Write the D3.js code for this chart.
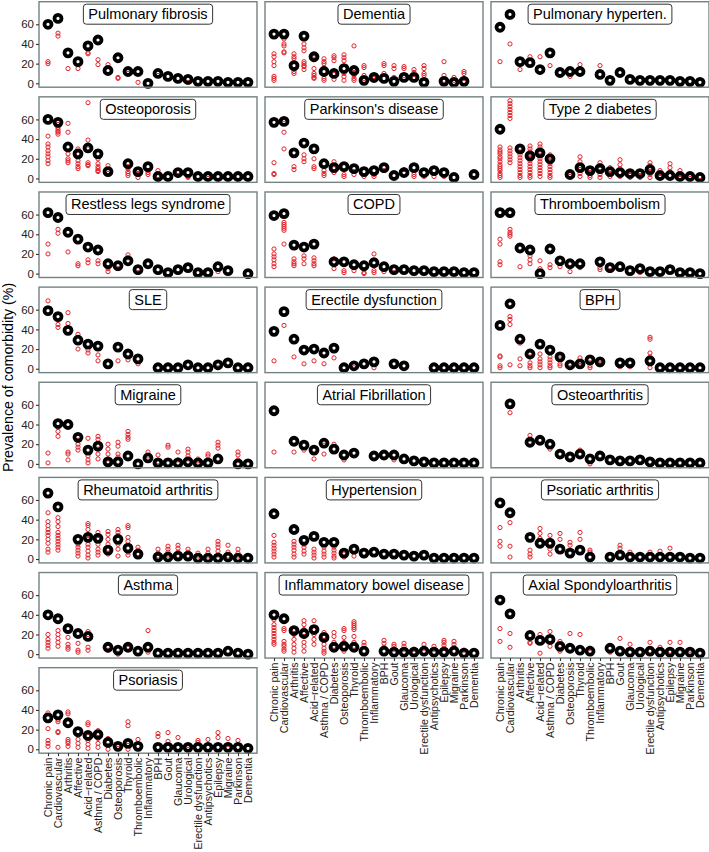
<!DOCTYPE html>
<html>
<head>
<meta charset="utf-8">
<script src="https://cdn.jsdelivr.net/npm/d3@7/dist/d3.min.js"></script>
<style>
html,body{margin:0;padding:0;background:#fff;}
svg{display:block;font-family:"Liberation Sans",Arial,Helvetica,sans-serif;}
</style>
</head>
<body>
<svg id="chart" width="709" height="852"></svg>
<script>
// ---------------- DATA ----------------
const categories = ["Chronic pain","Cardiovascular","Arthritis","Affective","Acid\u2212related","Asthma / COPD","Diabetes","Osteoporosis","Thyroid","Thromboembolic","Inflammatory","BPH","Gout","Glaucoma","Urological","Erectile dysfunction","Antipsychotics","Epilepsy","Migraine","Parkinson","Dementia"];

const diseases = ["Pulmonary fibrosis","Dementia","Pulmonary hyperten.","Osteoporosis","Parkinson's disease","Type 2 diabetes","Restless legs syndrome","COPD","Thromboembolism","SLE","Erectile dysfunction","BPH","Migraine","Atrial Fibrillation","Osteoarthritis","Rheumatoid arthritis","Hypertension","Psoriatic arthritis","Asthma","Inflammatory bowel disease","Axial Spondyloarthritis","Psoriasis"];

const yTicks = [0, 20, 40, 60];

// pooled prevalence (black) per comorbidity category, null = not shown
const pooledPulmonaryFibrosis = [60,66,31,22,38,44,13,26,12,12,0,10,7,5,4,2,2,2,1,1,1];
const pooledDementia = [50,50,18,48,27,12,10,15,13,3,6,5,2,6,6,1,null,2,1,2,null];
const pooledPulmonaryHypertension = [57,70,22,21,14,31,11,12,12,null,9,3,11,4,3,3,3,3,2,2,1];
const pooledOsteoporosis = [60,57,32,25,31,25,7,null,15,7,12,2,2,6,6,2,2,2,2,2,2];
const pooledParkinson = [57,58,26,36,30,15,11,12,10,7,8,11,3,6,11,6,8,6,1,null,4];
const pooledType2Diabetes = [50,null,30,23,26,20,null,4,11,8,10,7,6,5,5,9,3,3,2,2,1];
const pooledRestlessLegs = [62,57,42,35,27,24,10,8,13,4,10,4,1,4,6,1,1,7,3,null,0];
const pooledCOPD = [59,61,29,27,30,null,12,12,9,8,11,7,4,4,3,3,2,2,2,1,1];
const pooledThromboembolism = [62,62,26,24,0,25,13,10,10,null,12,6,7,3,5,2,2,4,1,1,0];
const pooledSLE = [59,53,39,29,25,23,5,22,15,10,null,1,1,1,4,1,1,4,6,1,1];
const pooledErectileDysfunction = [38,58,30,19,20,16,21,1,3,5,7,null,5,3,null,null,1,1,1,1,1];
const pooledBPH = [44,66,30,15,25,19,12,4,5,9,7,null,6,6,null,8,1,1,1,1,1];
const pooledMigraine = [null,41,40,27,14,18,2,2,8,0,6,1,1,1,2,1,1,5,null,0,0];
const pooledAtrialFibrillation = [54,null,23,19,14,21,15,9,11,null,8,9,9,5,3,2,1,1,1,1,1];
const pooledOsteoarthritis = [null,61,null,22,24,20,10,7,10,5,8,4,3,3,4,2,1,1,1,1,1];
const pooledRheumatoidArthritis = [67,53,null,20,22,21,9,20,11,5,null,2,2,3,3,1,1,1,2,1,1];
const pooledHypertension = [46,null,30,19,23,17,17,6,10,6,7,5,5,4,3,4,1,1,1,1,1];
const pooledPsoriaticArthritis = [57,47,null,22,16,16,10,6,9,2,null,2,4,2,2,2,2,2,2,1,1];
const pooledAsthma = [40,36,26,21,18,null,7,4,7,3,7,1,1,1,1,1,1,1,3,1,0];
const pooledIBD = [40,36,24,21,25,17,7,8,7,3,null,3,2,2,2,3,2,2,3,1,1];
const pooledAxSpA = [55,41,null,19,14,15,8,6,4,3,null,6,3,2,2,3,2,2,2,2,1];
const pooledPsoriasis = [32,35,27,18,14,15,7,3,6,3,null,2,2,2,2,2,2,2,2,2,1];

// individual study prevalences (red) per comorbidity category
const studiesPulmonaryFibrosis = [[20,22],[48,51],[15],[15],[30,31],[19,24],[19],[5,6],[10],[1],[],[8],[],[],[1],[],[],[],[],[],[]];
const studiesDementia = [[30,27,22,18,7,5,3],[45,40,38,32,31],[30,27,25,12,10],[40,36,33,22,20,18,17,14],[26,24,15,10,8,6,5],[25,22,20,16,5,3],[28,26,23,9,4],[29,26,23,10,7,3],[38,15,10,8,5,3],[18,16,8,5],[7,5,3],[20,18,10],[18,15,6],[17,15,8],[14,11,5],[18,15,10,8],[],[22,8,3],[6,3],[12,10,5],[]];
const studiesPulmonaryHypertension = [[22],[40],[14],[27],[27],[18],[],[7],[19],[],[18],[],[],[],[],[],[],[],[],[],[]];
const studiesOsteoporosis = [[43,35,32,28,25,22,18,15],[55,52,50,48,47,45],[56,47,25,20,18,16],[30,25,18,15,12,10],[77,39,30,16,14,13],[20,15,12,10,8,7],[13,5],[],[12,10,7,5,3],[9,4,1],[8,6,4],[8,3],[],[7,3],[2,1],[],[4],[],[],[],[]];
const studiesParkinson = [[16,5,4],[60,47,30],[12,9],[24,20,17],[20,12,10],[8,5,3],[17,10,6],[2,4],[4,7],[2],[2,4],[8],[],[9],[4,2],[2],[2],[2],[],[],[]];
const studiesType2Diabetes = [[32,29,27,25,22,20,17,14,12,10,8,5,3,1],[79,76,73,70,67,64,61,31,28,25,22,19,16],[30,27,24,21,18,15,12,9,6,3,1],[33,30,27,24,21,18,15,12,9,6,3,1],[35,32,29,26,23,20,17,14,11,8,5,2],[24,21,18,15,12,9,6,3,1],[],[2],[22,17,13,9,5,2],[9,6,3,1],[16,13,10,7,4,1],[11,8,5,2],[19,14,10,6,2],[7,4,1],[6,3,1],[16,13,10,7,4,1],[8,5,2],[15,11,7,3],[8,4,1],[4],[2]];
const studiesRestlessLegs = [[30,20],[45,41],[22],[10,8],[14,11],[13,10],[5,2],[5],[19,16],[1],[],[],[],[],[],[1],[],[2],[],[],[]];
const studiesCOPD = [[25,20,17,14,10,7],[52,50,48,46,44,30],[15,12,10,8],[18,15,10],[16,13,10,8],[],[15,5],[3,1],[3],[4,1,0],[20,3,1],[2],[1],[],[],[],[],[],[],[],[]];
const studiesThromboembolism = [[35,30,12,9],[45,42,40,38],[7],[18,14,10],[13,5],[9,6],[7],[2],[6],[],[6,4],[3],[],[],[1],[],[],[],[],[],[]];
const studiesSLE = [[69],[45,42],[57,46],[35,20],[19,16],[14,8],[],[8],[9],[5],[],[],[],[],[],[],[],[1],[],[],[]];
const studiesErectileDysfunction = [[8],[44],[12],[5],[8],[5],[11],[],[1],[],[1],[],[],[],[],[],[],[],[],[],[]];
const studiesBPH = [[13,12,3,1],[53,50,45,4],[26,10,3],[12,6,3,1],[15,10,7,4,1],[12,9,6,3,1],[10,5,3],[1],[11,7,3],[6,3,1],[9,4],[],[2],[2],[],[32,30,16,12,1],[],[],[],[],[]];
const studiesMigraine = [[11,1],[37,33,28],[12,10,4],[24,20,17,14],[26,8,4,1],[28,25,15,10,5],[20,15,10,5,2],[22,18,10,7],[33,30,27,25],[],[12,8],[9,2],[19,17],[12,4],[15,12,8,5],[5,3],[10,8],[22,19,16],[],[12,9,4],[]];
const studiesAtrialFibrillation = [[12],[],[12],[14],[5],[19,10],[20],[4],[],[],[],[],[4],[],[],[],[],[],[],[],[]];
const studiesOsteoarthritis = [[],[52],[],[29,25],[],[15],[],[],[14],[0],[],[],[],[],[],[],[],[],[],[],[]];
const studiesRheumatoidArthritis = [[47,38,34,30,27,24,20,16,10,7],[42,38,33,27,24,21,18,15,12,9],[],[15,12,9,6,3],[36,34,30,25,20,15,12,8,4,1],[27,24,20,15,10,7,4],[28,25,20,15,10,5],[30,27,24,15,10,3],[34,32,22,18,7,4],[12,9,5],[],[10,6,3],[13,10,7,4],[14,11,7,3],[10,7,3],[6,3],[10,6,3],[18,15,12,8,4],[14,7,3],[10,6,3],[]];
const studiesHypertension = [[24,17,14,11,8,5,2],[],[18,15,12,9,5,2],[15,12,8,5],[10,7,4,1],[12,8,5,2],[12,9,6,3,1],[5,2],[3],[],[],[],[],[],[],[],[],[],[],[],[]];
const studiesPsoriaticArthritis = [[32,18,13],[37,13,2],[],[9,5,2],[31,26,21],[24,16,10,5],[26,20],[17,14],[27,20],[9,7],[],[],[14,11],[7],[],[7],[8],[11],[],[],[]];
const studiesAsthma = [[20,15,12,9,6],[24,20,16,12,8],[17,10,7,5],[11,4,2],[23,20,7,4],[],[4],[1,0],[6],[],[24,2],[],[],[],[],[],[],[],[],[],[]];
const studiesIBD = [[35,30,27,24,21,18,15,12,10],[26,24,13,10,8,5,3],[25,20,15,10,6,2],[34,30,25,18,12,8,3],[34,25,20,15,10],[22,18,14,10,6,3,1],[22,18,12,8],[26,24,17,12,7,3],[33,31,29,27,25,18,12,8],[12,9],[],[14,11,7],[10,8,5],[11,8,5],[5,2],[10,6],[8,5],[14,12,9,6],[13,10,7],[4],[]];
const studiesAxSpA = [[26,13],[21,7],[],[12,11],[20,1],[23,8],[13,5,3],[21],[20],[6],[],[2],[16],[10],[],[12,3],[7],[12,3],[12],[4],[]];
const studiesPsoriasis = [[37,21,9,6,3],[30,28,18,17,2],[38,36,10,8,6,3],[14,10,6,2],[27,25,13,9,5,1],[19,16,11,6,2],[11,4,0],[1],[28,24,4,0],[10],[],[16,13],[17,8],[12],[4],[9,7],[10],[17,12],[11,5],[9],[]];

const pooledAll = [pooledPulmonaryFibrosis,pooledDementia,pooledPulmonaryHypertension,pooledOsteoporosis,pooledParkinson,pooledType2Diabetes,pooledRestlessLegs,pooledCOPD,pooledThromboembolism,pooledSLE,pooledErectileDysfunction,pooledBPH,pooledMigraine,pooledAtrialFibrillation,pooledOsteoarthritis,pooledRheumatoidArthritis,pooledHypertension,pooledPsoriaticArthritis,pooledAsthma,pooledIBD,pooledAxSpA,pooledPsoriasis];
const studiesAll = [studiesPulmonaryFibrosis,studiesDementia,studiesPulmonaryHypertension,studiesOsteoporosis,studiesParkinson,studiesType2Diabetes,studiesRestlessLegs,studiesCOPD,studiesThromboembolism,studiesSLE,studiesErectileDysfunction,studiesBPH,studiesMigraine,studiesAtrialFibrillation,studiesOsteoarthritis,studiesRheumatoidArthritis,studiesHypertension,studiesPsoriaticArthritis,studiesAsthma,studiesIBD,studiesAxSpA,studiesPsoriasis];

// ---------------- LAYOUT ----------------
const svg = d3.select("#chart");
const colLeft = [39, 265, 491];
const panelW = 218, panelH = 85.5;
const rowTop = r => 1.7 + 95.14 * r;
const nCols = 3;
const nPanels = diseases.length;
const nRows = Math.ceil(nPanels / nCols);

const x = d3.scalePoint().domain(categories).range([0, panelW]).padding(0.9);
const y = d3.scaleLinear().domain([-3.95, 82.95]).range([panelH, 0]);

const borderCol = "#748282";
const redCol = "#e3242b";

diseases.forEach((name, i) => {
  const col = i % nCols, row = Math.floor(i / nCols);
  const g = svg.append("g").attr("transform", `translate(${colLeft[col]},${rowTop(row)})`);

  g.append("rect").attr("width", panelW).attr("height", panelH)
    .attr("fill", "#fff").attr("stroke", "none");

  // red study points
  const reds = [];
  studiesAll[i].forEach((vals, ci) => vals.forEach(v => reds.push({c: categories[ci], v})));
  g.selectAll("circle.red").data(reds).enter().append("circle")
    .attr("class", "red")
    .attr("cx", d => x(d.c)).attr("cy", d => y(d.v)).attr("r", 2.1)
    .attr("fill", "none").attr("stroke", redCol).attr("stroke-width", 1);

  // black pooled points
  const blacks = pooledAll[i].map((v, ci) => ({c: categories[ci], v})).filter(d => d.v !== null);
  g.selectAll("circle.blk").data(blacks).enter().append("circle")
    .attr("class", "blk")
    .attr("cx", d => x(d.c)).attr("cy", d => y(d.v)).attr("r", 3.5)
    .attr("fill", "none").attr("stroke", "#000").attr("stroke-width", 3.8);

  // border
  g.append("rect").attr("width", panelW).attr("height", panelH)
    .attr("fill", "none").attr("stroke", borderCol).attr("stroke-width", 1.4);

  // strip label
  const lab = g.append("g");
  const t = lab.append("text").attr("x", panelW / 2).attr("y", 17.5)
    .attr("text-anchor", "middle").attr("font-size", 14.5).attr("fill", "#000").text(name);
  const tw = t.node().getComputedTextLength();
  lab.insert("rect", "text").attr("x", panelW / 2 - tw / 2 - 5).attr("y", 2.5)
    .attr("width", tw + 10).attr("height", 20).attr("rx", 3).attr("ry", 3)
    .attr("fill", "#fff").attr("stroke", "#333").attr("stroke-width", 1);

  // y axis on left column
  if (col === 0) {
    const ya = g.append("g").call(d3.axisLeft(y).tickValues(yTicks).tickSize(3).tickPadding(2));
    ya.select(".domain").remove();
    ya.selectAll("line").attr("stroke", "#333").attr("stroke-width", 1.1);
    ya.selectAll("text").attr("font-size", 11.5).attr("fill", "#222")
      .attr("font-family", "Liberation Sans, Arial, sans-serif");
  }

  // x axis on bottom panel of each column
  const isBottom = (i + nCols >= nPanels);
  if (isBottom) {
    const xa = g.append("g").attr("transform", `translate(0,${panelH})`)
      .call(d3.axisBottom(x).tickSize(3).tickPadding(2));
    xa.select(".domain").remove();
    xa.selectAll("line").attr("stroke", "#333").attr("stroke-width", 1.1);
    xa.selectAll("text")
      .attr("font-size", 10.6).attr("fill", "#222")
      .attr("font-family", "Liberation Sans, Arial, sans-serif")
      .attr("text-anchor", "end")
      .attr("transform", "rotate(-90)")
      .attr("x", -4.5).attr("y", 0).attr("dy", "0.35em");
  }
});

// y axis title
const plotTop = rowTop(0), plotBottom = rowTop(nRows - 1) + panelH;
svg.append("text")
  .attr("transform", `translate(13,${(plotTop + plotBottom) / 2}) rotate(-90)`)
  .attr("text-anchor", "middle").attr("font-size", 14.2).attr("fill", "#000")
  .text("Prevalence of comorbidity (%)");
</script>
</body>
</html>
